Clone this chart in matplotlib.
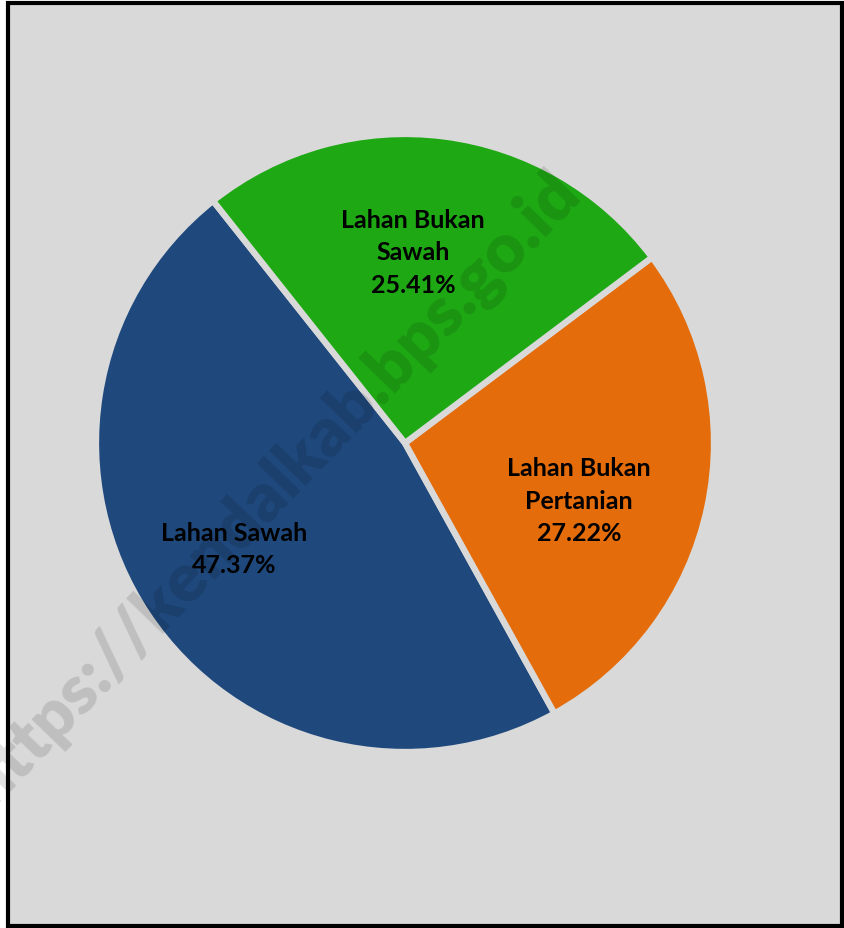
import matplotlib
matplotlib.use("Agg")
from matplotlib import pyplot as plt
from matplotlib.patches import Rectangle

# data
labels = ['Lahan Sawah', 'Lahan Bukan\nPertanian', 'Lahan Bukan\nSawah']
shares = [47.37, 27.22, 25.41]
colors = ['#1F497D', '#E46C0A', '#1EA814']
# label anchor points (data coords, pie radius = 1)
label_pos = [(-0.554, -0.342), (0.563, -0.186), (0.026, 0.619)]

bg = '#D9D9D9'
W, H = 844, 929

fig = plt.figure(figsize=(W / 100, H / 100), dpi=100)
fig.patch.set_facecolor('white')

# grey panel with black frame
frame = Rectangle((8 / W, 1 - 927 / H), 834 / W, 923 / H, transform=fig.transFigure,
                  facecolor=bg, edgecolor='black', linewidth=3, zorder=-5)
fig.patches.append(frame)

cx, cy, r = 405, 444, 309
ax = fig.add_axes([(cx - r) / W, (H - cy - r) / H, 2 * r / W, 2 * r / H])
ax.set_facecolor('none')
ax.set_zorder(1)

ax.pie(shares, colors=colors, startangle=128.4, counterclock=True, radius=1,
       wedgeprops=dict(edgecolor=bg, linewidth=4.5))
ax.set_xlim(-1, 1)
ax.set_ylim(-1, 1)
ax.set_aspect('equal')
ax.axis('off')

for lab, val, (x, y) in zip(labels, shares, label_pos):
    ax.text(x, y, f'{lab}\n{val:.2f}%', ha='center', va='center', fontsize=18,
            fontweight='bold', family='Lato', color='black', linespacing=1.5)

# watermark
fig.text(272 / W, 1 - 488 / H, 'https://kendalkab.bps.go.id', rotation=46,
         ha='center', va='center', fontsize=49, fontweight='heavy', family='Lato',
         color='black', alpha=0.12, rotation_mode='anchor', zorder=5)

fig.savefig('out.png', dpi=100, facecolor=fig.get_facecolor())
